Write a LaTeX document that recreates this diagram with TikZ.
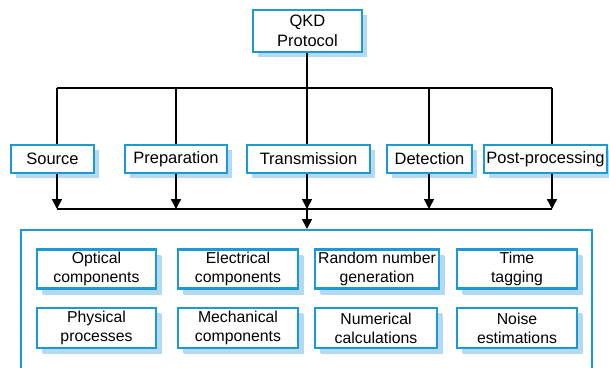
\documentclass[tikz,border=0pt]{standalone}
\usepackage{fontspec}
\setmainfont{Liberation Sans}
\usetikzlibrary{shadows,arrows.meta}
\definecolor{boxblue}{HTML}{1B9AD6}
\definecolor{shadowblue}{HTML}{B3DAF1}
\tikzset{
  qbox/.style={draw=boxblue, line width=2.2pt, fill=white, inner sep=0pt, align=center,
    drop shadow={shadow xshift=5pt, shadow yshift=-5pt, fill=shadowblue, opacity=1},
    font=\fontsize{16.5}{19.5}\selectfont},
  ibox/.style={qbox, minimum height=39pt, font=\fontsize{15.8}{18.8}\selectfont,
    drop shadow={shadow xshift=6pt, shadow yshift=-6pt, fill=shadowblue, opacity=1}},
  rbox/.style={qbox, minimum height=28pt},
  bigbox/.style={draw=boxblue, line width=2.2pt, inner sep=0pt, minimum width=571pt, minimum height=150pt},
  wire/.style={draw=black, line width=1.5pt},
  arr/.style={wire, -{Triangle[length=10pt,width=10pt]}}
}
\begin{document}
\begin{tikzpicture}[x=1pt,y=1pt]
\useasboundingbox (0,0) rectangle (609,-367);
\clip (0,0) rectangle (609,-367);
\node[bigbox, anchor=north] (big) at (306.5,-229) {};
\node[qbox, minimum width=109pt, minimum height=42pt] (qkd) at (307.5,-31) {QKD\\Protocol};
\node[rbox, minimum width=83pt] (src) at (52.5,-159) {Source};
\node[rbox, minimum width=102pt] (prep) at (176,-159) {Preparation};
\node[rbox, minimum width=123pt] (trans) at (308.5,-159) {Transmission};
\node[rbox, minimum width=85pt] (det) at (429.5,-159) {Detection};
\node[rbox, minimum width=123pt] (post) at (545.5,-159) {Post-processing};
\node[ibox, minimum width=119pt] (opt) at (96.5,-269) {Optical\\components};
\node[ibox, minimum width=120pt] (ele) at (238,-269) {Electrical\\components};
\node[ibox, minimum width=124pt] (rng) at (377,-269) {Random number\\generation};
\node[ibox, minimum width=120pt] (tim) at (517,-269) {Time\\tagging};
\node[ibox, minimum width=119pt, minimum height=40pt] (phy) at (96.5,-328) {Physical\\processes};
\node[ibox, minimum width=120pt, minimum height=40pt] (mec) at (238,-328) {Mechanical\\components};
\node[ibox, minimum width=122pt, minimum height=40pt] (num) at (376,-328) {Numerical\\calculations};
\node[ibox, minimum width=120pt, minimum height=40pt] (noi) at (517,-328) {Noise\\estimations};
% top bus
\coordinate (t1) at (57,-88);
\coordinate (t2) at (176,-88);
\coordinate (t3) at (307,-88);
\coordinate (t4) at (429,-88);
\coordinate (t5) at (552,-88);
\draw[wire] (qkd.south -| t3) -- (t3);
\draw[wire] (t1) -- (t5);
\draw[wire] (t1) -- (t1 |- src.north);
\draw[wire] (t2) -- (t2 |- prep.north);
\draw[wire] (t3) -- (t3 |- trans.north);
\draw[wire] (t4) -- (t4 |- det.north);
\draw[wire] (t5) -- (t5 |- post.north);
% bottom bus
\coordinate (b1) at (57,-209);
\coordinate (b2) at (176,-209);
\coordinate (b3) at (307,-209);
\coordinate (b4) at (429,-209);
\coordinate (b5) at (552,-209);
\draw[wire] (b1) -- (b5);
\draw[arr] (b1 |- src.south) -- (b1);
\draw[arr] (b2 |- prep.south) -- (b2);
\draw[arr] (b3 |- trans.south) -- (b3);
\draw[arr] (b4 |- det.south) -- (b4);
\draw[arr] (b5 |- post.south) -- (b5);
\draw[arr] (b3) -- (b3 |- big.north);
\end{tikzpicture}
\end{document}
